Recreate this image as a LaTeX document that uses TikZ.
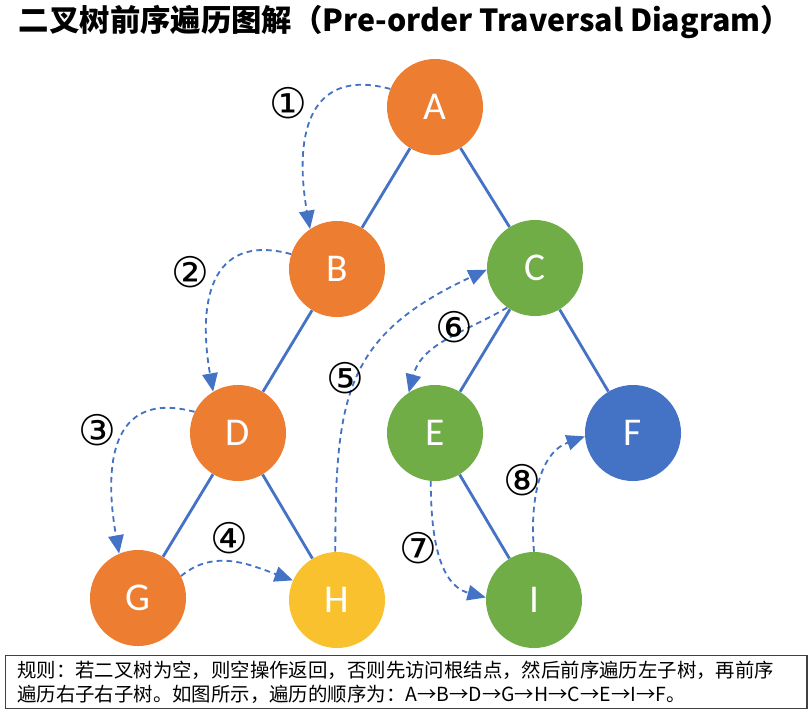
\documentclass[tikz,border=0pt]{standalone}
\usepackage{fontspec}
\setmainfont{Carlito}
\newfontfamily\cjkfont{Noto Sans CJK SC}
\newfontfamily\symfont{DejaVu Sans}
\usetikzlibrary{arrows.meta}
\definecolor{torange}{HTML}{ED7D31}
\definecolor{tgreen}{HTML}{70AD47}
\definecolor{tblue}{HTML}{4472C4}
\definecolor{tyellow}{HTML}{F8C12D}
\definecolor{edgeblue}{HTML}{4472C4}

\begin{document}
\begin{tikzpicture}[
    x=0.025cm, y=-0.025cm,
    vertex/.style={circle, minimum size=2.4cm, inner sep=0pt, text=white, font=\fontsize{28}{28}\selectfont},
    tedge/.style={draw=edgeblue, line width=2pt},
    visit/.style={draw=edgeblue, line width=1.3pt, dash pattern=on 4pt off 3pt, -{Triangle[length=13pt,width=11pt]}},
    order/.style={font=\symfont\fontsize{30}{30}\selectfont, inner sep=0pt}
]
\useasboundingbox (0,0) rectangle (808,712);

% title
\node[anchor=west, font=\cjkfont\bfseries\fontsize{21.6}{22}\selectfont] (title) at (14,22)
    {二叉树前序遍历图解（Pre-order Traversal Diagram）};

% tree
\node[vertex, fill=torange] (A) at (435,107) {A};
\node[vertex, fill=torange] (B) at (337,269) {B};
\node[vertex, fill=tgreen] (C) at (535,268) {C};
\node[vertex, fill=torange] (D) at (238,433) {D};
\node[vertex, fill=tgreen] (E) at (435,433) {E};
\node[vertex, fill=tblue] (F) at (633,433) {F};
\node[vertex, fill=torange] (G) at (138,598) {G};
\node[vertex, fill=tyellow] (H) at (337,600) {H};
\node[vertex, fill=tgreen] (I) at (534,600) {I};

\draw[tedge] (A) -- (B);
\draw[tedge] (A) -- (C);
\draw[tedge] (B) -- (D);
\draw[tedge] (C) -- (E);
\draw[tedge] (C) -- (F);
\draw[tedge] (D) -- (G);
\draw[tedge] (D) -- (H);
\draw[tedge] (E) -- (I);

% visiting order
\draw[visit] (A.158) to[out=165, in=100, looseness=1.4] (B.124);
\draw[visit] (B.162) to[out=165, in=100, looseness=1.4] (D.121);
\draw[visit] (D.154) to[out=165, in=100, looseness=1.4] (G.113);
\draw[visit] (G.27) to[out=40, in=160] (H.156);
\draw[visit] (H.92) to[out=90, in=205, looseness=1.25] (C.182);
\draw[visit] (C.235) to[out=210, in=75] (E.123);
\draw[visit] (E.265) to[out=270, in=165] (I.177);
\draw[visit] (I.90) to[out=95, in=200] (F.184);

\node[order] (n1) at (288,103) {①};
\node[order] (n2) at (190,272) {②};
\node[order] (n3) at (97,430) {③};
\node[order] (n4) at (229,538) {④};
\node[order] (n5) at (345,378) {⑤};
\node[order] (n6) at (454,327) {⑥};
\node[order] (n7) at (418,548) {⑦};
\node[order] (n8) at (522,480) {⑧};

% rule text
\node[draw=black!75, line width=1pt, anchor=north west, minimum width=20.03cm, minimum height=1.325cm,
      text width=19.45cm, align=left, inner xsep=8pt, inner ysep=2pt,
      font=\cjkfont\fontsize{13.8}{17.5}\selectfont] (rule) at (5,655)
    {规则：若二叉树为空，则空操作返回，否则先访问根结点，然后前序遍历左子树，再前序\\
     遍历右子右子树。如图所示，遍历的顺序为：A→B→D→G→H→C→E→I→F。};
\end{tikzpicture}
\end{document}
